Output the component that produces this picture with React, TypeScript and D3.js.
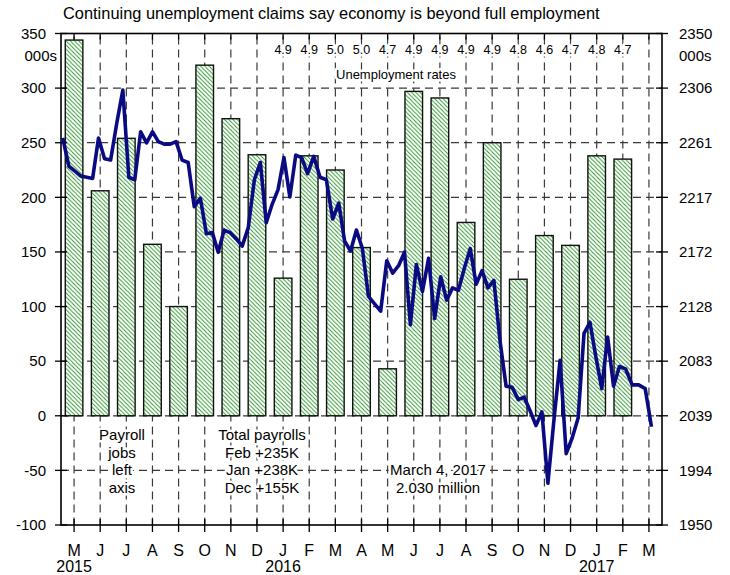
import React from "react";
import { scaleLinear, line, timeDay } from "d3";

const months = ["M", "J", "J", "A", "S", "O", "N", "D", "J", "F", "M", "A", "M", "J", "J", "A", "S", "O", "N", "D", "J", "F", "M"];
const years = [
  { label: "2015", idx: 0 },
  { label: "2016", idx: 8 },
  { label: "2017", idx: 20 },
];
// monthly payroll change, thousands, May 2015 .. Feb 2017
const payrolls = [344, 206, 254, 157, 100, 321, 272, 239, 126, 238, 225, 154, 43, 297, 291, 177, 250, 125, 165, 156, 238, 235];
// unemployment rate, Jan 2016 .. Feb 2017
const unempRates = ["4.9", "4.9", "5.0", "5.0", "4.7", "4.9", "4.9", "4.9", "4.9", "4.8", "4.6", "4.7", "4.8", "4.7"];
const unempStart = 8;
// weekly continuing claims, thousands, weeks ending from 2015-04-18
const claimsStart = new Date(2015, 3, 18);
const claims = [
  2265, 2242, 2238, 2234, 2233, 2232, 2265, 2248, 2247, 2277,
  2304, 2233, 2231, 2270, 2261, 2270, 2262, 2260, 2260, 2262,
  2247, 2245, 2209, 2216, 2187, 2188, 2172, 2190, 2188, 2183,
  2177, 2192, 2231, 2245, 2196, 2211, 2223, 2249, 2217, 2251,
  2249, 2236, 2250, 2233, 2231, 2199, 2212, 2181, 2173, 2190,
  2175, 2136, 2130, 2124, 2165, 2155, 2161, 2172, 2113, 2162,
  2140, 2167, 2118, 2152, 2133, 2143, 2141, 2159, 2175, 2146,
  2157, 2143, 2149, 2100, 2063, 2062, 2052, 2054, 2043, 2031,
  2042, 1984, 2036, 2084, 2008, 2021, 2037, 2106, 2115, 2087,
  2061, 2103, 2063, 2079, 2077, 2064, 2064, 2061, 2030,
];
const leftTicks = [350, 300, 250, 200, 150, 100, 50, 0, -50, -100];
const rightTicks = [2350, 2306, 2261, 2217, 2172, 2128, 2083, 2039, 1994, 1950];

const W = 730;
const H = 575;
const L = 61;
const R = 662;
const T = 33.5;
const B = 525;
const FONT = "'Liberation Sans Narrow', 'Arial Narrow', 'Liberation Sans', Arial, sans-serif";

const x = scaleLinear().domain([-0.5, 22.5]).range([L, R]);
const yL = scaleLinear().domain([-100, 350]).range([B, T]);
const yR = scaleLinear().domain([1950, 2350]).range([B, T]);

const monthPos = (d: Date) => {
  const idx = (d.getFullYear() - 2015) * 12 + d.getMonth() - 4;
  const dim = new Date(d.getFullYear(), d.getMonth() + 1, 0).getDate();
  return idx + (d.getDate() - 1) / dim;
};

const claimPts = claims.map((v, i) => ({ d: timeDay.offset(claimsStart, i * 7), v }));
const claimLine = line<{ d: Date; v: number }>()
  .x((p) => x(monthPos(p.d)))
  .y((p) => yR(p.v));

const barW = 17.6;
const grid = "#3a3a3a";
const halo = { stroke: "#fff", strokeWidth: 5, paintOrder: "stroke" as const, strokeLinejoin: "round" as const };

export default function App() {
  return (
    <div style={{ position: "absolute", left: 0, top: 0 }}>
      <svg width={W} height={H} style={{ display: "block", background: "#fff" }} fontFamily={FONT}>
        <defs>
          <pattern id="hatch" patternUnits="userSpaceOnUse" width="4.2" height="4.2">
            <rect width="4.2" height="4.2" fill="#fff" />
            <path d="M-1,-1 L5.2,5.2 M-1,3.2 L1,5.2 M3.2,-1 L5.2,1" stroke="#1f8f1f" strokeWidth="0.85" />
          </pattern>
        </defs>
        <rect width={W} height={H} fill="#fff" />
        <text x={63} y={19} fontSize={16.4} fill="#000">
          Continuing unemployment claims say economy is beyond full employment
        </text>

        {/* grid */}
        {leftTicks.slice(1, -1).map((t) => (
          <line key={"h" + t} x1={L} x2={R} y1={yL(t)} y2={yL(t)} stroke={grid} strokeWidth={1.2} strokeDasharray="8,5" />
        ))}
        {months.map((m, i) => (
          <line key={"v" + i} x1={x(i)} x2={x(i)} y1={T} y2={B} stroke={grid} strokeWidth={1.2} strokeDasharray="8,5" strokeDashoffset={-3} />
        ))}

        {/* bars */}
        {payrolls.map((v, i) => (
          <rect
            key={"b" + i}
            x={x(i) - barW / 2}
            y={yL(v)}
            width={barW}
            height={yL(0) - yL(v)}
            fill="url(#hatch)"
            stroke="#111"
            strokeWidth={1.4}
          />
        ))}

        {/* frame */}
        <rect x={L} y={T} width={R - L} height={B - T} fill="none" stroke="#000" strokeWidth={1.6} />
        {leftTicks.map((t) => (
          <g key={"lt" + t}>
            <line x1={L - 6} x2={L + 6} y1={yL(t)} y2={yL(t)} stroke="#000" strokeWidth={1.3} />
            <text x={46} y={yL(t)} dy="0.35em" textAnchor="end" fontSize={15}>
              {t}
            </text>
          </g>
        ))}
        {rightTicks.map((t, i) => (
          <g key={"rt" + t}>
            <line x1={R - 6} x2={R + 6} y1={yL(leftTicks[i])} y2={yL(leftTicks[i])} stroke="#000" strokeWidth={1.3} />
            <text x={679} y={yL(leftTicks[i])} dy="0.35em" textAnchor="start" fontSize={15}>
              {t}
            </text>
          </g>
        ))}
        <text x={57} y={56} dy="0.35em" textAnchor="end" fontSize={15}>000s</text>
        <text x={679} y={56} dy="0.35em" textAnchor="start" fontSize={15}>000s</text>

        {months.map((m, i) => (
          <g key={"m" + i}>
            <line x1={x(i)} x2={x(i)} y1={B - 6} y2={B + 7} stroke="#000" strokeWidth={1.3} />
            <line x1={x(i)} x2={x(i)} y1={T} y2={T + 6} stroke="#000" strokeWidth={1.3} />
            <text x={x(i)} y={550} dy="0.35em" textAnchor="middle" fontSize={16}>
              {m}
            </text>
          </g>
        ))}
        {years.map((yr) => (
          <text key={yr.label} x={x(yr.idx)} y={566} dy="0.35em" textAnchor="middle" fontSize={16}>
            {yr.label}
          </text>
        ))}

        {/* unemployment rates */}
        {unempRates.map((r, i) => (
          <text key={"u" + i} x={x(unempStart + i)} y={50} dy="0.35em" textAnchor="middle" fontSize={12.5} {...halo}>
            {r}
          </text>
        ))}
        <text x={396} y={74} dy="0.35em" textAnchor="middle" fontSize={13} {...halo}>
          Unemployment rates
        </text>

        {/* annotations */}
        {["Payroll", "jobs", "left", "axis"].map((s, i) => (
          <text key={"p" + i} x={122} y={435 + i * 17.5} dy="0.35em" textAnchor="middle" fontSize={15} {...halo}>
            {s}
          </text>
        ))}
        {["Total payrolls", "Feb +235K", "Jan +238K", "Dec +155K"].map((s, i) => (
          <text key={"t" + i} x={262} y={435 + i * 17.5} dy="0.35em" textAnchor="middle" fontSize={15} {...halo}>
            {s}
          </text>
        ))}
        {["March 4, 2017", "2.030 million"].map((s, i) => (
          <text key={"c" + i} x={438} y={470 + i * 17.5} dy="0.35em" textAnchor="middle" fontSize={15} {...halo}>
            {s}
          </text>
        ))}

        <path d={claimLine(claimPts) || ""} fill="none" stroke="#0a0a82" strokeWidth={3.6} strokeLinejoin="round" />
      </svg>
    </div>
  );
}
